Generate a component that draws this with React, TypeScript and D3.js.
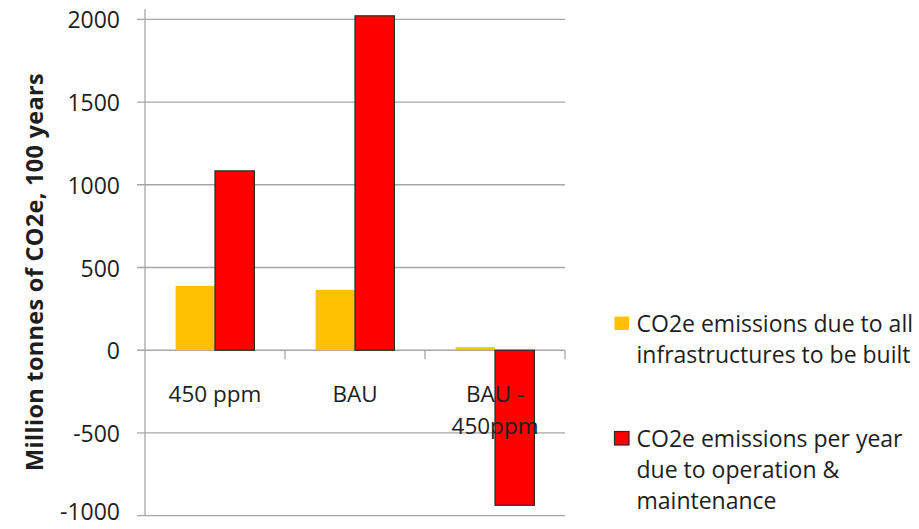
import React from "react";
import * as d3 from "d3";

const categories = ["450 ppm", "BAU", "BAU - 450ppm"];
const categoryLines = [["450 ppm"], ["BAU"], ["BAU -", "450ppm"]];
const seriesNames = [
  "CO2e emissions due to all infrastructures to be built",
  "CO2e emissions per year due to operation & maintenance",
];
const infrastructureValues = [389, 365, 18];
const operationValues = [1084, 2021, -937];
const yTicks = [-1000, -500, 0, 500, 1000, 1500, 2000];
const legendLines = [
  ["CO2e emissions due to all", "infrastructures to be built"],
  ["CO2e emissions per year", "due to operation &", "maintenance"],
];

const W = 919;
const H = 529;
const plot = { left: 145, right: 565, top: 19.3, bottom: 515.7 };
const font = "'Open Sans', 'DejaVu Sans', sans-serif";
const textColor = "#1e1e1e";
const gridColor = "#a6a6a6";
const colors = ["#FFC000", "#FF0000"];

export default function App() {
  const x0 = d3.scaleBand<string>().domain(categories).range([plot.left, plot.right]);
  const x1 = d3
    .scaleBand<number>()
    .domain([0, 1])
    .range([30.6, x0.bandwidth() - 30.6]);
  const y = d3.scaleLinear().domain([-1000, 2000]).range([plot.bottom, plot.top]);
  const y0 = y(0);

  const series = [infrastructureValues, operationValues];

  return (
    <svg
      width={W}
      height={H}
      style={{ position: "absolute", left: 0, top: 0, background: "#fff" }}
      fontFamily={font}
    >
      {/* gridlines and y ticks */}
      {yTicks.map((t) => (
        <g key={t}>
          <line x1={plot.left - 8} x2={plot.right} y1={y(t)} y2={y(t)} stroke={gridColor} strokeWidth={1.3} />
          <text
            x={120}
            y={Math.min(y(t), 510.5)}
            textAnchor="end"
            dominantBaseline="central"
            fontSize={23}
            fill={textColor}
          >
            {t}
          </text>
        </g>
      ))}
      {/* y axis */}
      <line x1={plot.left} x2={plot.left} y1={9.3} y2={plot.bottom} stroke={gridColor} strokeWidth={1.3} />
      {/* category ticks on zero line */}
      {categories.map((c) => (
        <line
          key={c}
          x1={(x0(c) as number) + x0.bandwidth()}
          x2={(x0(c) as number) + x0.bandwidth()}
          y1={y0}
          y2={y0 + 9}
          stroke={gridColor}
          strokeWidth={1.3}
        />
      ))}
      {/* bars */}
      {categories.map((c, ci) =>
        series.map((vals, si) => {
          const v = vals[ci];
          const top = Math.min(y(v), y0);
          const h = Math.abs(y(v) - y0);
          return (
            <rect
              key={c + si}
              x={(x0(c) as number) + (x1(si) as number)}
              y={top}
              width={x1.bandwidth()}
              height={h}
              fill={colors[si]}
              stroke={si === 1 ? "#2a2a2a" : "none"}
              strokeWidth={1.2}
            />
          );
        })
      )}
      {/* category labels */}
      {categories.map((c, ci) =>
        categoryLines[ci].map((line, li) => (
          <text
            key={c + li}
            x={(x0(c) as number) + x0.bandwidth() / 2}
            y={393 + li * 32.5}
            textAnchor="middle"
            dominantBaseline="central"
            fontSize={22.5}
            fill={textColor}
          >
            {line}
          </text>
        ))
      )}
      {/* y axis title */}
      <text
        transform={`translate(34,272) rotate(-90)`}
        textAnchor="middle"
        dominantBaseline="central"
        fontSize={23.5}
        fontWeight="bold"
        letterSpacing={0.3}
        fill={textColor}
      >
        Million tonnes of CO2e, 100 years
      </text>
      {/* legend */}
      {seriesNames.map((name, si) => {
        const baseY = si === 0 ? 323.3 : 438.3;
        return (
          <g key={name}>
            <rect
              x={614.5}
              y={baseY - 6.8}
              width={14.5}
              height={13.5}
              fill={colors[si]}
              stroke={si === 1 ? "#2a2a2a" : "none"}
              strokeWidth={1.2}
            />
            {legendLines[si].map((line, li) => (
              <text
                key={li}
                x={636.5}
                y={baseY + li * 31}
                dominantBaseline="central"
                fontSize={23}
                fill={textColor}
              >
                {line}
              </text>
            ))}
          </g>
        );
      })}
    </svg>
  );
}
